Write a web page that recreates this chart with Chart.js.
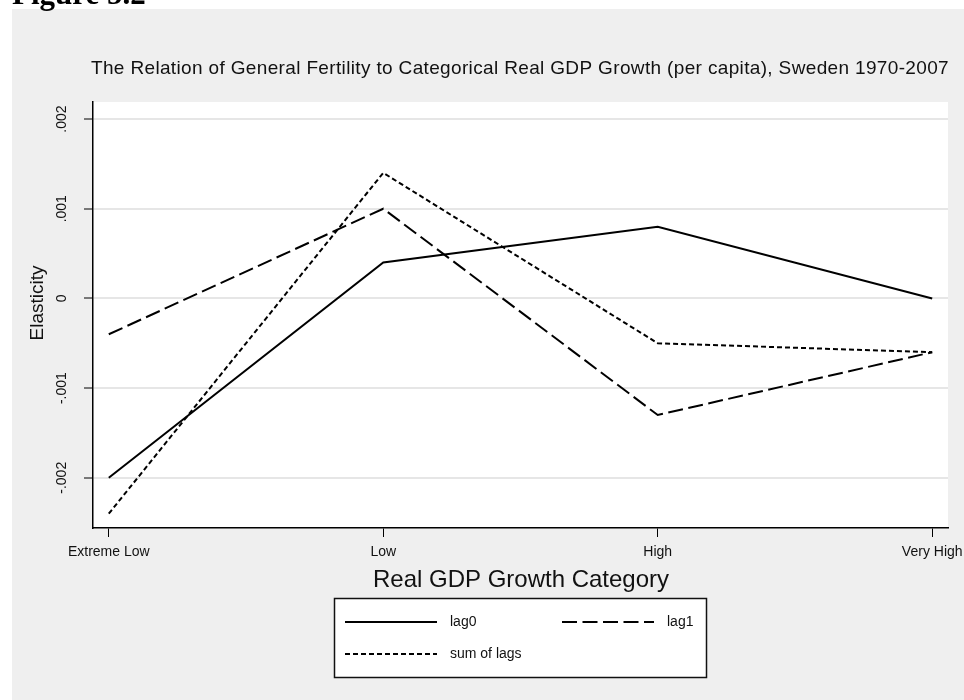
<!DOCTYPE html>
<html>
<head>
<meta charset="utf-8">
<script src="https://cdn.jsdelivr.net/npm/chart.js@4"></script>
<style>
  html, body { margin: 0; padding: 0; background: #ffffff; }
  canvas { display: block; }
</style>
</head>
<body>
<canvas id="fig" width="964" height="700"></canvas>
<script>
// GDP growth categories on the horizontal axis
const categories = ['Extreme Low', 'Low', 'High', 'Very High'];

// Estimated elasticities by category
const lag0 = [-0.002, 0.0004, 0.0008, 0.0];
const lag1 = [-0.0004, 0.001, -0.0013, -0.0006];
const sumOfLags = [-0.0024, 0.0014, -0.0005, -0.0006];

// Vertical axis ticks and their printed labels
const yTicks = [-0.002, -0.001, 0, 0.001, 0.002];
const yTickLabels = ['-.002', '-.001', '0', '.001', '.002'];

const seriesNames = ['lag0', 'lag1', 'sum of lags'];

const FONT = "'Liberation Sans', Arial, Helvetica, sans-serif";

const toPoints = arr => arr.map((v, i) => ({ x: i, y: v }));

// Background panel, page heading and plot area fill
const backdrop = {
  id: 'backdrop',
  beforeDraw(chart) {
    const { ctx, chartArea: a } = chart;
    ctx.save();
    ctx.fillStyle = '#ffffff';
    ctx.fillRect(0, 0, chart.width, chart.height);
    ctx.fillStyle = '#efefef';
    ctx.fillRect(12, 9, chart.width - 12, chart.height - 9);
    ctx.fillStyle = '#000';
    ctx.font = "bold 31px 'Liberation Serif', 'Times New Roman', serif";
    ctx.textBaseline = 'alphabetic';
    ctx.textAlign = 'left';
    ctx.fillText('Figure 5.2', 12, 4);
    ctx.fillStyle = '#ffffff';
    ctx.fillRect(a.left, a.top, a.right - a.left, a.bottom - a.top);
    ctx.restore();
  }
};

// Titles, rotated y tick labels and the boxed legend
const annotations = {
  id: 'annotations',
  afterDraw(chart) {
    const { ctx } = chart;
    const ys = chart.scales.y;
    ctx.save();
    ctx.fillStyle = '#111';

    // main title
    ctx.font = '19px ' + FONT;
    ctx.letterSpacing = '0.35px';
    ctx.textAlign = 'center';
    ctx.textBaseline = 'alphabetic';
    ctx.fillText('The Relation of General Fertility to Categorical Real GDP Growth (per capita), Sweden 1970-2007', 520, 74);
    ctx.letterSpacing = '0px';

    // x axis title
    ctx.font = '24px ' + FONT;
    ctx.fillText('Real GDP Growth Category', 521, 587);

    // y axis title
    ctx.save();
    ctx.translate(38, 303);
    ctx.rotate(-Math.PI / 2);
    ctx.font = '19px ' + FONT;
    ctx.textBaseline = 'middle';
    ctx.fillText('Elasticity', 0, 0);
    ctx.restore();

    // y tick labels, rotated
    ctx.font = '14px ' + FONT;
    yTicks.forEach((v, i) => {
      const py = ys.getPixelForValue(v);
      ctx.save();
      ctx.translate(62, py);
      ctx.rotate(-Math.PI / 2);
      ctx.textAlign = 'center';
      ctx.textBaseline = 'middle';
      ctx.fillText(yTickLabels[i], 0, 0);
      ctx.restore();
    });

    // legend box
    const box = { x: 334.5, y: 598.5, w: 372, h: 79 };
    ctx.fillStyle = '#ffffff';
    ctx.fillRect(box.x, box.y, box.w, box.h);
    ctx.strokeStyle = '#111';
    ctx.lineWidth = 1.5;
    ctx.strokeRect(box.x, box.y, box.w, box.h);

    const slots = [
      { x: 345, y: 622 },
      { x: 562, y: 622 },
      { x: 345, y: 654 }
    ];
    chart.data.datasets.forEach((ds, i) => {
      const s = slots[i];
      ctx.save();
      ctx.strokeStyle = ds.borderColor;
      ctx.lineWidth = ds.borderWidth;
      ctx.setLineDash(ds.borderDash || []);
      ctx.beginPath();
      ctx.moveTo(s.x, s.y);
      ctx.lineTo(s.x + 92, s.y);
      ctx.stroke();
      ctx.restore();
      ctx.fillStyle = '#111';
      ctx.font = '14px ' + FONT;
      ctx.textAlign = 'left';
      ctx.textBaseline = 'middle';
      ctx.fillText(ds.label, s.x + 105, s.y);
    });
    ctx.restore();
  }
};

const lineStyle = (label, data, dash) => ({
  label,
  data: toPoints(data),
  borderColor: '#000',
  borderWidth: 2,
  borderDash: dash,
  borderCapStyle: 'butt',
  pointRadius: 0,
  tension: 0,
  fill: false
});

new Chart(document.getElementById('fig'), {
  type: 'line',
  data: {
    datasets: [
      lineStyle(seriesNames[0], lag0, []),
      lineStyle(seriesNames[1], lag1, [15, 5.5]),
      lineStyle(seriesNames[2], sumOfLags, [5, 3])
    ]
  },
  options: {
    responsive: false,
    animation: false,
    devicePixelRatio: 1,
    layout: { padding: { left: 0, top: 102, right: 16, bottom: 132 } },
    plugins: {
      legend: { display: false },
      title: { display: false },
      tooltip: { enabled: false }
    },
    scales: {
      x: {
        type: 'linear',
        min: -0.0575,
        max: 3.0575,
        afterBuildTicks: s => { s.ticks = categories.map((_, i) => ({ value: i })); },
        afterFit: s => { s.height = 40; s.paddingLeft = 0; s.paddingRight = 0; },
        ticks: {
          autoSkip: false,
          maxRotation: 0,
          padding: 7,
          color: '#111',
          font: { family: FONT, size: 14 },
          callback: v => categories[v]
        },
        grid: {
          drawOnChartArea: false,
          drawTicks: true,
          tickLength: 9,
          tickColor: '#000',
          tickWidth: 1
        },
        border: { color: '#000', width: 1.5 }
      },
      y: {
        type: 'linear',
        min: -0.00256,
        max: 0.00219,
        afterBuildTicks: s => { s.ticks = yTicks.map(v => ({ value: v })); },
        afterFit: s => { s.width = 93; s.paddingTop = 0; s.paddingBottom = 0; },
        ticks: { display: false },
        grid: {
          color: '#e6e6e6',
          lineWidth: 2,
          drawTicks: true,
          tickLength: 9,
          tickColor: '#000',
          tickWidth: 1
        },
        border: { color: '#000', width: 1.5 }
      }
    }
  },
  plugins: [backdrop, annotations]
});
</script>
</body>
</html>
